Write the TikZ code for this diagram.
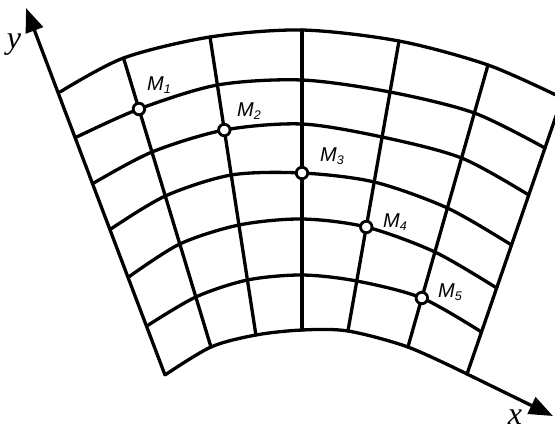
\documentclass[tikz,border=0pt]{standalone}
\usepackage{fontspec}
\newfontfamily\labsans{Liberation Sans}
\newfontfamily\labserif{Liberation Serif}
\usetikzlibrary{arrows.meta}
\tikzset{
  gridline/.style={line width=3.3pt, line cap=round, line join=round},
  axisline/.style={line width=3.3pt, -{Triangle[length=24pt,width=18pt]}},
  marker/.style={circle, draw, fill=white, line width=2.8pt, minimum size=11.5pt, inner sep=0pt},
  mlabel/.style={font=\labsans\fontsize{20}{20}\selectfont\itshape, anchor=base west, inner sep=0pt},
  axlabel/.style={font=\labserif\fontsize{32}{32}\selectfont\itshape, anchor=base, inner sep=0pt},
}
\newcommand{\msub}[1]{\raisebox{-3pt}{\fontsize{12.5}{12.5}\selectfont #1}}
\begin{document}
\begin{tikzpicture}[x=1pt,y=-1pt]
\useasboundingbox (0,0) rectangle (555,432);
\clip (0,0) rectangle (555,432);
\foreach \r/\ya/\yb/\yc/\yd/\ye/\yf/\yg in {
  0/92/58/37/30/41/65/98,
  1/137/109/85/80/92/113/148,
  2/183/152/130/124/137/158/195,
  3/229/196/175/173/182/208/245,
  4/277/244/225/219/227/252/288,
  5/326/297/280/275/281/298/332,
  6/375/347/335/330/331/347/374}{
  \coordinate (p\r-0) at ({60+0.371*(\ya-92)},\ya);
  \coordinate (p\r-1) at ({166.6+0.3025*(\yb-200.4)},\yb);
  \coordinate (p\r-2) at ({210+0.154*(\yc-37)},\yc);
  \coordinate (p\r-3) at (302,\yd);
  \coordinate (p\r-4) at ({399-0.176*(\ye-41)},\ye);
  \coordinate (p\r-5) at ({488-0.284*(\yf-65)},\yf);
  \coordinate (p\r-6) at ({467-0.345*(\yg-374)},\yg);
}
\coordinate (ytip) at (26,8);
\coordinate (xtip) at (553,416);
% arcs
\foreach \r in {0,...,6}
  \draw[gridline] plot[smooth] coordinates {(p\r-0) (p\r-1) (p\r-2) (p\r-3) (p\r-4) (p\r-5) (p\r-6)};
% radial lines
\foreach \c in {1,...,6}
  \draw[gridline] (p0-\c) -- (p6-\c);
% axes
\draw[axisline] (p6-0) -- (ytip);
\draw[axisline] (p6-6) -- (xtip);
\node[axlabel] (ylab) at (14,48) {y};
\node[axlabel] (xlab) at (515,424) {x};
% points
\node[marker] (M1) at (p1-1) {};
\node[marker] (M2) at (p2-2) {};
\node[marker] (M3) at (p3-3) {};
\node[marker] (M4) at (p4-4) {};
\node[marker] (M5) at (p5-5) {};
\node[mlabel] (lM1) at (147,90) {M\msub{1}};
\node[mlabel] (lM2) at (237,116) {M\msub{2}};
\node[mlabel] (lM3) at (320,161) {M\msub{3}};
\node[mlabel] (lM4) at (383,227) {M\msub{4}};
\node[mlabel] (lM5) at (438,297) {M\msub{5}};
\end{tikzpicture}
\end{document}
